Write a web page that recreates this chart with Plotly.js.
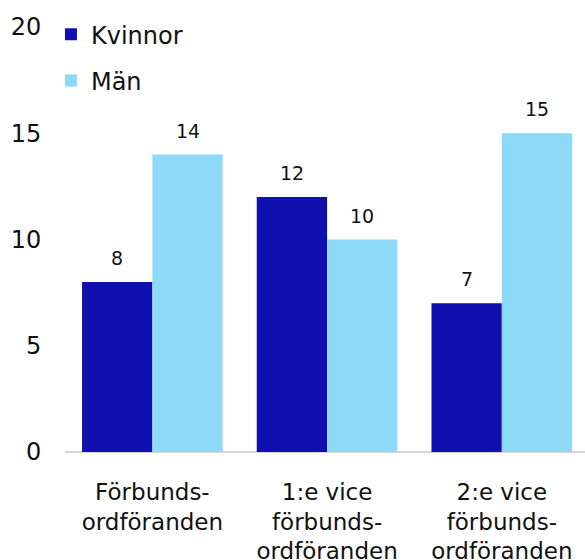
<!DOCTYPE html>
<html>
<head>
<meta charset="utf-8">
<script src="https://cdn.plot.ly/plotly-3.0.1.min.js"></script>
<style>html,body{margin:0;padding:0;background:#fff;}#chart{width:585px;height:560px;}</style>
</head>
<body>
<div id="chart"></div>
<script>
var categories = ["Förbunds-<br>ordföranden", "1:e vice<br>förbunds-<br>ordföranden", "2:e vice<br>förbunds-<br>ordföranden"];
var kvinnor = [8, 12, 7];
var man = [14, 10, 15];
var seriesNames = ["Kvinnor", "Män"];
var yTicks = [0, 5, 10, 15, 20];

var colors = ["#1010B0", "#8ED8F8"];
var bargap = 0.195;
var font = "DejaVu Sans, Liberation Sans, Arial, sans-serif";

var series = [kvinnor, man];
var traces = series.map(function (vals, i) {
  return {
    type: "bar",
    name: seriesNames[i],
    x: categories,
    y: vals,
    marker: { color: colors[i], line: { width: 0 } },
    legendgroup: "g" + i,
    hoverinfo: "y"
  };
});

var barW = (1 - bargap) / series.length;
var annotations = [];
series.forEach(function (vals, i) {
  vals.forEach(function (v, j) {
    annotations.push({
      x: j - (1 - bargap) / 2 + barW * (i + 0.5),
      y: v,
      xref: "x", yref: "y",
      text: String(v),
      showarrow: false,
      yanchor: "bottom",
      yshift: 11,
      font: { family: font, size: 19, color: "#111" }
    });
  });
});

var layout = {
  width: 585, height: 560,
  margin: { l: 65, r: 0, t: 27, b: 108 },
  paper_bgcolor: "#fff", plot_bgcolor: "#fff",
  barmode: "group",
  bargap: bargap,
  bargroupgap: 0,
  font: { family: font, color: "#111" },
  showlegend: true,
  legend: {
    x: -0.027, y: 1.035, xanchor: "left", yanchor: "top",
    font: { family: font, size: 24, color: "#111" },
    tracegroupgap: 12,
    traceorder: "grouped",
    bgcolor: "rgba(0,0,0,0)"
  },
  xaxis: {
    type: "category",
    range: [-0.5, 2.476],
    showgrid: false, zeroline: false,
    showline: false,
    ticks: "outside", ticklen: 19, tickcolor: "rgba(0,0,0,0)",
    tickfont: { family: font, size: 23, color: "#111" },
    fixedrange: true
  },
  yaxis: {
    range: [0, 20],
    tickvals: yTicks,
    ticktext: yTicks.map(String),
    showgrid: false,
    zeroline: true, zerolinecolor: "#d6d6d6", zerolinewidth: 2,
    showline: false,
    ticks: "outside", ticklen: 18, tickcolor: "rgba(0,0,0,0)",
    tickfont: { family: font, size: 24, color: "#111" },
    fixedrange: true
  },
  annotations: annotations
};

Plotly.newPlot("chart", traces, layout, { displayModeBar: false, staticPlot: true });
</script>
</body>
</html>
